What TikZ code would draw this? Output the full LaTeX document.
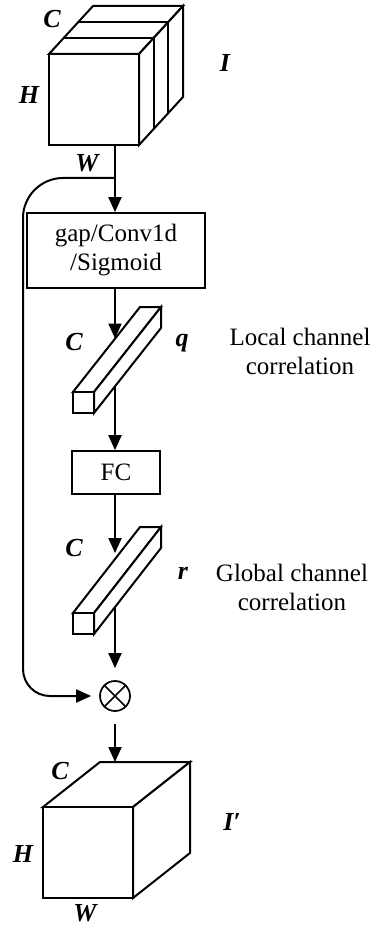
\documentclass[tikz,border=0pt]{standalone}
\usepackage{fontspec}
\setmainfont{Liberation Serif}
\usetikzlibrary{arrows.meta,calc}
\begin{document}
\begin{tikzpicture}[x=1pt,y=-1pt,line width=2pt,line join=miter,
  arr/.style={-{Triangle[length=15pt,width=13pt]}},
  dimlabel/.style={font=\fontsize{26}{28}\selectfont\bfseries\itshape,inner sep=0pt},
  note/.style={font=\fontsize{25}{29}\selectfont,align=center,inner sep=0pt},
  opbox/.style={draw,fill=white,line width=1.7pt,inner sep=0pt,align=center,
    font=\fontsize{25}{29}\selectfont},
  face/.style={draw,fill=white},
  mulnode/.style={circle,draw,line width=1.7pt,minimum size=30pt,inner sep=0pt,
    path picture={\draw[line width=1.7pt]
      (path picture bounding box.north west) -- (path picture bounding box.south east)
      (path picture bounding box.south west) -- (path picture bounding box.north east);}}]
\useasboundingbox (0,0) rectangle (381,928);

% ---- input tensor I (three channel slices) ----
\path[face] (49,54) -- (139,54) -- (183,6) -- (93,6) -- cycle;
\path[face] (139,54) -- (183,6) -- (183,97) -- (139,145) -- cycle;
\path[face] (49,54) rectangle (139,145);
\foreach \k in {0.3333,0.6667}
  \draw ($(49,54)+\k*(44,-48)$) -- ($(139,54)+\k*(44,-48)$) -- ($(139,145)+\k*(44,-48)$);
\coordinate (inbot) at (115,145);
\node[dimlabel] at (52,19) {C};
\node[dimlabel] at (29,95) {H};
\node[dimlabel] at (87,163) {W};
\node[dimlabel] at (225,63) {I};

% ---- operator boxes ----
\node[opbox,minimum width=178pt,minimum height=75pt] (gap) at (116,250.5) {gap/Conv1d\\/Sigmoid};
\node[opbox,minimum width=88pt,minimum height=43pt] (fc) at (116,472.5) {FC};
\node[mulnode] (mul) at (115,696) {};

% ---- main flow ----
\coordinate (split) at (115,178);
\draw[arr] (inbot) -- (gap.north -| inbot);
\coordinate (qin) at (115,338.5);
\coordinate (qout) at (115,386);
\coordinate (rin) at (115,553);
\coordinate (rout) at (115,607);
\draw[arr] (gap.south -| inbot) -- (qin);
\draw[arr] (qout) -- (fc.north -| inbot);
\draw[arr] (fc.south -| inbot) -- (rin);
\draw[arr,shorten >=12pt] (rout) -- (mul);

% ---- vector q ----
\path[face] (73,392) -- (94,392) -- (161,307) -- (140,307) -- cycle;
\path[face] (94,392) -- (161,307) -- (161,328) -- (94,413) -- cycle;
\path[face] (73,392) rectangle (94,413);
\node[dimlabel] at (74,342) {C};
\node[dimlabel] at (182,343) {q};
\node[note] at (300,351) {Local channel\\correlation};

% ---- vector r ----
\path[face] (73,613) -- (94,613) -- (161,527) -- (140,527) -- cycle;
\path[face] (94,613) -- (161,527) -- (161,548) -- (94,634) -- cycle;
\path[face] (73,613) rectangle (94,634);
\node[dimlabel] at (74,548) {C};
\node[dimlabel] at (183,573) {r};
\node[note] at (292,587) {Global channel\\correlation};

% ---- skip connection ----
\draw[arr,shorten >=8pt] (split) -- (63,178) .. controls (41,178) and (23,196) .. (23,218)
  -- (23,669) .. controls (23,684) and (35,696) .. (50,696) -- (mul);

% ---- output tensor I' ----
\coordinate (outtop) at (115,762);
\draw[arr,shorten <=12pt] (mul) -- (outtop);
\path[face] (43,807) -- (133,807) -- (190,762) -- (100,762) -- cycle;
\path[face] (133,807) -- (190,762) -- (190,853) -- (133,898) -- cycle;
\path[face] (43,807) rectangle (133,898);
\node[dimlabel] at (60,771) {C};
\node[dimlabel] at (23,854) {H};
\node[dimlabel] at (85,913) {W};
\node[dimlabel] at (232,822) {I′};
\end{tikzpicture}
\end{document}
